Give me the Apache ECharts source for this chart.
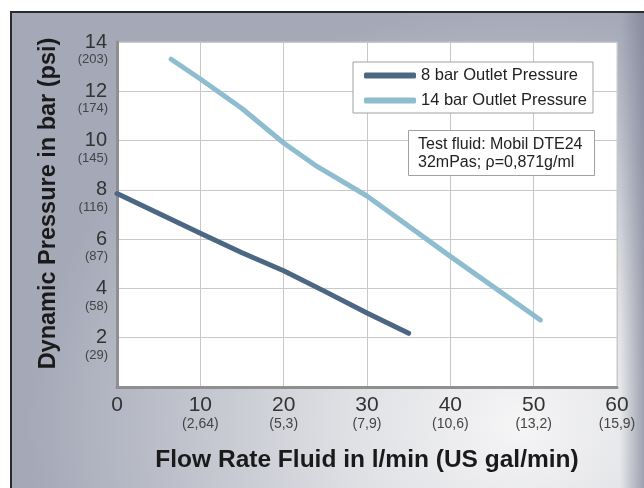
<!DOCTYPE html>
<html>
<head>
<meta charset="utf-8">
<script src="https://cdn.jsdelivr.net/npm/echarts@6/dist/echarts.min.js"></script>
<style>
html,body{margin:0;padding:0;background:#fff;}
#wrap{position:relative;width:644px;height:488px;overflow:hidden;background:#fff;}
#panel{position:absolute;left:10px;top:11px;width:634px;height:477px;border-top:2px solid #2b2b2b;border-left:2px solid #2b2b2b;
background:
 linear-gradient(to left, rgba(120,124,145,0.7) 0px, rgba(120,124,145,0) 26px),
 radial-gradient(ellipse 78% 88% at 80% 86%, #f5f5f6 0%, #dfe0e4 35%, #bec1cb 70%, #a4a8b7 100%);}
#chart{position:absolute;left:0;top:0;width:644px;height:488px;}
</style>
</head>
<body>
<div id="wrap"><div id="panel"></div><div id="chart"></div></div>
<script>
// ---- data ----
const xTicks = [0, 10, 20, 30, 40, 50, 60];
const xGalLabels = ['', '(2,64)', '(5,3)', '(7,9)', '(10,6)', '(13,2)', '(15,9)'];
const yTicks = [0, 2, 4, 6, 8, 10, 12, 14];
const yPsiLabels = ['', '(29)', '(58)', '(87)', '(116)', '(145)', '(174)', '(203)'];
const series8Name = '8 bar Outlet Pressure';
const series14Name = '14 bar Outlet Pressure';
const flow8 =  [0,    10,   15,   20,   25,   30,   35];
const pres8 =  [7.85, 6.24, 5.45, 4.72, 3.87, 3.0,  2.18];
const flow14 = [6.5,  10,   15,   20,   24,   30,   40,   50.8];
const pres14 = [13.3, 12.5, 11.3, 9.9,  8.95, 7.75, 5.3,  2.72];
const noteText = 'Test fluid: Mobil DTE24\n32mPas; \u03c1=0,871g/ml';

const chart = echarts.init(document.getElementById('chart'), null, {renderer: 'canvas'});
const FF = '"Liberation Sans", Arial, Helvetica, sans-serif';
const option = {
  backgroundColor: 'transparent',
  textStyle: {fontFamily: FF},
  animation: false,
  grid: {left: 117, right: 27, top: 42, bottom: 101, show: true, backgroundColor: '#ffffff', borderColor: '#c8c8c8', borderWidth: 1},
  title: {
    text: noteText, left: 408, top: 130,
    backgroundColor: '#ffffff', borderColor: '#a0a0a0', borderWidth: 1,
    padding: [6, 12, 5, 10],
    textStyle: {fontSize: 16, fontWeight: 'normal', color: '#222', lineHeight: 17.5, fontFamily: FF}
  },
  legend: {
    orient: 'vertical', left: 353, top: 62,
    backgroundColor: '#ffffff', borderColor: '#a0a0a0', borderWidth: 1,
    padding: [5, 6, 4, 11], itemGap: 8, itemWidth: 52, itemHeight: 6, itemTextGap: 8,
    icon: 'roundRect',
    textStyle: {fontSize: 16.5, color: '#222', lineHeight: 17, fontFamily: FF},
    data: [series8Name, series14Name]
  },
  xAxis: {
    type: 'value', min: xTicks[0], max: xTicks[xTicks.length - 1], interval: 10,
    name: 'Flow Rate Fluid in l/min (US gal/min)', nameLocation: 'middle', nameGap: 61,
    nameTextStyle: {fontSize: 24.5, fontWeight: 'bold', color: '#1a1a1a', fontFamily: FF},
    axisLine: {show: true, lineStyle: {color: '#8f8f8f', width: 3}},
    axisTick: {show: false},
    splitLine: {show: true, lineStyle: {color: '#c8c8c8', width: 1}},
    axisLabel: {
      margin: 8,
      formatter: function (v) {
        const i = xTicks.indexOf(v);
        const g = i >= 0 ? xGalLabels[i] : '';
        return g ? '{n|' + v + '}\n{p|' + g + '}' : '{n|' + v + '}';
      },
      rich: {
        n: {fontSize: 21, lineHeight: 21, color: '#333', fontFamily: FF},
        p: {fontSize: 14, lineHeight: 17, color: '#444', fontFamily: FF}
      }
    }
  },
  yAxis: [{
    type: 'value', min: yTicks[0], max: yTicks[yTicks.length - 1], interval: 2, position: 'left',
    name: 'Dynamic Pressure in bar (psi)', nameLocation: 'middle', nameGap: 56,
    nameTextStyle: {fontSize: 23.5, fontWeight: 'bold', color: '#1a1a1a', fontFamily: FF, padding: [0, 0, 0, 22]},
    axisLine: {show: true, lineStyle: {color: '#8f8f8f', width: 3}},
    axisTick: {show: false},
    splitLine: {show: true, lineStyle: {color: '#c8c8c8', width: 1}},
    axisLabel: {margin: 10, fontSize: 20, color: '#333', formatter: function (v) { return v === 0 ? '' : String(v); }}
  }, {
    type: 'value', min: yTicks[0], max: yTicks[yTicks.length - 1], interval: 2, position: 'left', offset: 0,
    axisLine: {show: false}, axisTick: {show: false}, splitLine: {show: false},
    axisLabel: {
      margin: 9, fontSize: 13, color: '#444', verticalAlign: 'top', lineHeight: 14, padding: [10.5, 0, 0, 0],
      formatter: function (v) { const i = yTicks.indexOf(v); return i >= 0 ? yPsiLabels[i] : ''; }
    }
  }],
  series: [{
    name: series8Name, type: 'line', yAxisIndex: 0, symbol: 'none', smooth: false,
    color: '#4b6784',
    lineStyle: {width: 5, color: '#4b6784', cap: 'round', join: 'round'},
    data: flow8.map((x, i) => [x, pres8[i]])
  }, {
    name: series14Name, type: 'line', yAxisIndex: 0, symbol: 'none', smooth: false,
    color: '#8fbdd0',
    lineStyle: {width: 5, color: '#8fbdd0', cap: 'round', join: 'round'},
    data: flow14.map((x, i) => [x, pres14[i]])
  }]
};
chart.setOption(option);
</script>
</body>
</html>
